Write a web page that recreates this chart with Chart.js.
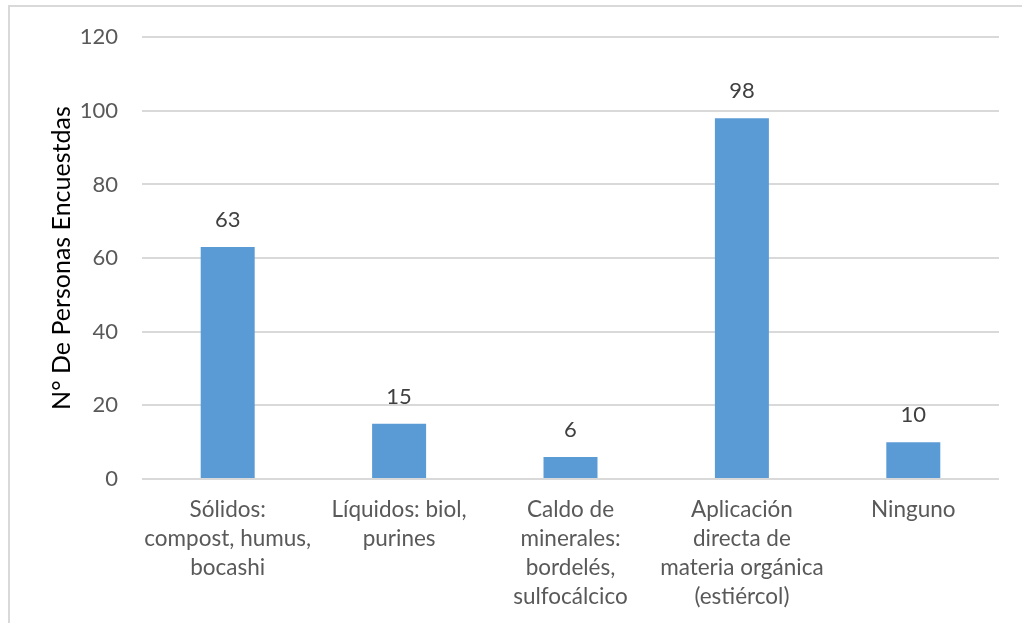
<!DOCTYPE html>
<html>
<head>
<meta charset="utf-8">
<script src="https://cdn.jsdelivr.net/npm/chart.js@4"></script>
<style>
  body { margin: 0; background: #fff; overflow: hidden; }
  #frame { position: absolute; left: 8px; top: 5px; width: 1100px; height: 700px; border: 2px solid #d9d9d9; box-sizing: border-box; }
  #wrap { position: absolute; left: 0; top: 0; width: 1022px; height: 623px; }
</style>
</head>
<body>
<div id="frame"></div>
<div id="wrap"><canvas id="chart"></canvas></div>
<script>
// categories (wrapped the way the picture shows them)
const categories = [
    ["Sólidos:", "compost, humus,", "bocashi"],
    ["Líquidos: biol,", "purines"],
    ["Caldo de", "minerales:", "bordelés,", "sulfocálcico"],
    ["Aplicación", "directa de", "materia orgánica", "(estiércol)"],
    ["Ninguno"]
];
const personas = [63, 15, 6, 98, 10];
const yTicks = [0, 20, 40, 60, 80, 100, 120];
const yTitle = "N° De Personas Encuestdas";

const FONT = "Lato, 'Liberation Sans', sans-serif";

// draw the value above every bar
const valueLabels = {
    id: "valueLabels",
    afterDatasetsDraw(chart) {
        const ctx = chart.ctx;
        ctx.save();
        ctx.font = "22px " + FONT;
        ctx.fillStyle = "#404040";
        ctx.textAlign = "center";
        ctx.textBaseline = "middle";
        chart.getDatasetMeta(0).data.forEach((bar, i) => {
            ctx.fillText(String(personas[i]), bar.x, bar.y - 27);
        });
        ctx.restore();
    }
};

new Chart(document.getElementById("chart"), {
    type: "bar",
    data: {
        labels: categories,
        datasets: [{
            data: personas,
            backgroundColor: "#5b9bd5",
            borderWidth: 0,
            categoryPercentage: 0.63,
            barPercentage: 0.5
        }]
    },
    options: {
        responsive: true,
        maintainAspectRatio: false,
        animation: false,
        layout: { padding: { top: 35, right: 23, left: 0, bottom: 0 } },
        plugins: { legend: { display: false }, tooltip: { enabled: false } },
        scales: {
            x: {
                grid: { display: false },
                border: { display: false },
                ticks: {
                    color: "#595959",
                    font: { family: FONT, size: 22.5, lineHeight: 29 / 22.5 },
                    padding: 8,
                    maxRotation: 0,
                    autoSkip: false
                },
                afterFit(scale) { scale.height = 144; }
            },
            y: {
                min: 0,
                max: 120,
                afterBuildTicks(scale) { scale.ticks = yTicks.map(v => ({ value: v })); },
                grid: { color: "#d9d9d9", lineWidth: 2, drawTicks: false },
                border: { display: false },
                ticks: {
                    color: "#595959",
                    font: { family: FONT, size: 22 },
                    padding: 24
                },
                title: {
                    display: true,
                    text: yTitle,
                    color: "#000",
                    font: { family: FONT, size: 25 },
                    padding: { top: 47, bottom: 0 }
                },
                afterFit(scale) { scale.width = 142; }
            }
        }
    },
    plugins: [valueLabels]
});
</script>
</body>
</html>
